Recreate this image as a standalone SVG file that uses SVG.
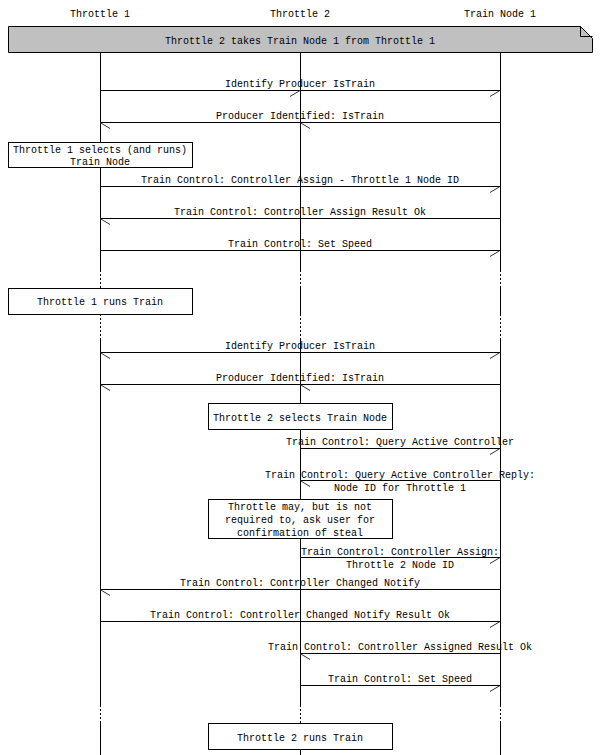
<svg xmlns="http://www.w3.org/2000/svg" width="600" height="755" viewBox="0 0 600 755">
<style>
text{font-family:"Liberation Mono","DejaVu Sans Mono",monospace;font-size:10px;fill:#000;text-anchor:middle}
.life{stroke:#000;stroke-width:1;fill:none}
.dot{stroke:#000;stroke-width:1;fill:none;stroke-dasharray:2,2}
.msg{stroke:#000;stroke-width:1;fill:none}
.head{stroke:#333;stroke-width:1;fill:none}
.box{fill:#fff;stroke:#000;stroke-width:1}
.note{fill:#c0c0c0;stroke:#000;stroke-width:1}
</style>
<rect width="600" height="755" fill="#fff"/>
<g id="lifelines">
<path class="life" d="M100.5,52V270M300.5,52V270M500.5,52V270M100.5,288V314M300.5,288V314M500.5,288V314M100.5,338V705M300.5,338V705M500.5,338V705M100.5,723V755M300.5,723V755M500.5,723V755"/>
<path class="dot" d="M100.5,270V288M300.5,270V288M500.5,270V288M100.5,314V338M300.5,314V338M500.5,314V338M100.5,705V723M300.5,705V723M500.5,705V723"/>
</g>
<g id="throttle1"><text x="100" y="17">Throttle 1</text></g>
<g id="throttle2"><text x="300" y="17">Throttle 2</text></g>
<g id="trainnode1"><text x="500" y="17">Train Node 1</text></g>
<g id="note-title">
<polygon class="note" points="8.5,26.5 580.5,26.5 592.5,38.5 592.5,52.5 8.5,52.5"/>
<polyline class="msg" points="580.5,26.5 580.5,36.5 592.5,36.5"/>
<text x="300" y="44">Throttle 2 takes Train Node 1 from Throttle 1</text>
</g>
<g id="connectors">
<line class="msg" x1="100" y1="90.5" x2="501" y2="90.5"/>
<path class="head" d="M300,90.5L290,96.5M500,90.5L490,96.5"/>
<text x="300" y="87">Identify Producer IsTrain</text>

<line class="msg" x1="100" y1="122.5" x2="501" y2="122.5"/>
<path class="head" d="M100,122.5L110,128.5M300,122.5L310,128.5"/>
<text x="300" y="119">Producer Identified: IsTrain</text>

<line class="msg" x1="100" y1="186.5" x2="501" y2="186.5"/>
<path class="head" d="M500,186.5L490,192.5"/>
<text x="300" y="183">Train Control: Controller Assign - Throttle 1 Node ID</text>

<line class="msg" x1="100" y1="218.5" x2="501" y2="218.5"/>
<path class="head" d="M100,218.5L110,224.5"/>
<text x="300" y="215">Train Control: Controller Assign Result Ok</text>

<line class="msg" x1="100" y1="250.5" x2="501" y2="250.5"/>
<path class="head" d="M500,250.5L490,256.5"/>
<text x="300" y="247">Train Control: Set Speed</text>

<line class="msg" x1="100" y1="352.5" x2="501" y2="352.5"/>
<path class="head" d="M100,352.5L110,358.5M500,352.5L490,358.5"/>
<text x="300" y="349">Identify Producer IsTrain</text>

<line class="msg" x1="100" y1="384.5" x2="501" y2="384.5"/>
<path class="head" d="M100,384.5L110,390.5M300,384.5L310,390.5"/>
<text x="300" y="381">Producer Identified: IsTrain</text>

<line class="msg" x1="300" y1="448.5" x2="501" y2="448.5"/>
<path class="head" d="M500,448.5L490,454.5"/>
<text x="400" y="445">Train Control: Query Active Controller</text>

<line class="msg" x1="300" y1="480.5" x2="501" y2="480.5"/>
<path class="head" d="M300,480.5L310,486.5"/>
<text x="400" y="477.5">Train Control: Query Active Controller Reply:</text>
<text x="400" y="491">Node ID for Throttle 1</text>

<line class="msg" x1="300" y1="557.5" x2="501" y2="557.5"/>
<path class="head" d="M500,557.5L490,563.5"/>
<text x="400" y="554.5">Train Control: Controller Assign:</text>
<text x="400" y="567.5">Throttle 2 Node ID</text>

<line class="msg" x1="100" y1="589.5" x2="501" y2="589.5"/>
<path class="head" d="M100,589.5L110,595.5"/>
<text x="300" y="586">Train Control: Controller Changed Notify</text>

<line class="msg" x1="100" y1="621.5" x2="501" y2="621.5"/>
<path class="head" d="M500,621.5L490,627.5"/>
<text x="300" y="618">Train Control: Controller Changed Notify Result Ok</text>

<line class="msg" x1="300" y1="653.5" x2="501" y2="653.5"/>
<path class="head" d="M300,653.5L310,659.5"/>
<text x="400" y="650">Train Control: Controller Assigned Result Ok</text>

<line class="msg" x1="300" y1="685.5" x2="501" y2="685.5"/>
<path class="head" d="M500,685.5L490,691.5"/>
<text x="400" y="682">Train Control: Set Speed</text>
</g>
<g id="box-t1-selects">
<rect class="box" x="8.5" y="142.5" width="184" height="25"/>
<text x="100" y="152.5">Throttle 1 selects (and runs)</text>
<text x="100" y="164.5">Train Node</text>
</g>
<g id="box-t1-runs">
<rect class="box" x="8.5" y="288.5" width="184" height="26"/>
<text x="100" y="305">Throttle 1 runs Train</text>
</g>
<g id="box-t2-selects">
<rect class="box" x="208.5" y="403.5" width="184" height="26"/>
<text x="300" y="420.5">Throttle 2 selects Train Node</text>
</g>
<g id="box-t2-may">
<rect class="box" x="208.5" y="499.5" width="184" height="39"/>
<text x="300" y="510">Throttle may, but is not</text>
<text x="300" y="522.7">required to, ask user for</text>
<text x="300" y="535.5">confirmation of steal</text>
</g>
<g id="box-t2-runs">
<rect class="box" x="208.5" y="723.5" width="184" height="26"/>
<text x="300" y="740.5">Throttle 2 runs Train</text>
</g>
</svg>
